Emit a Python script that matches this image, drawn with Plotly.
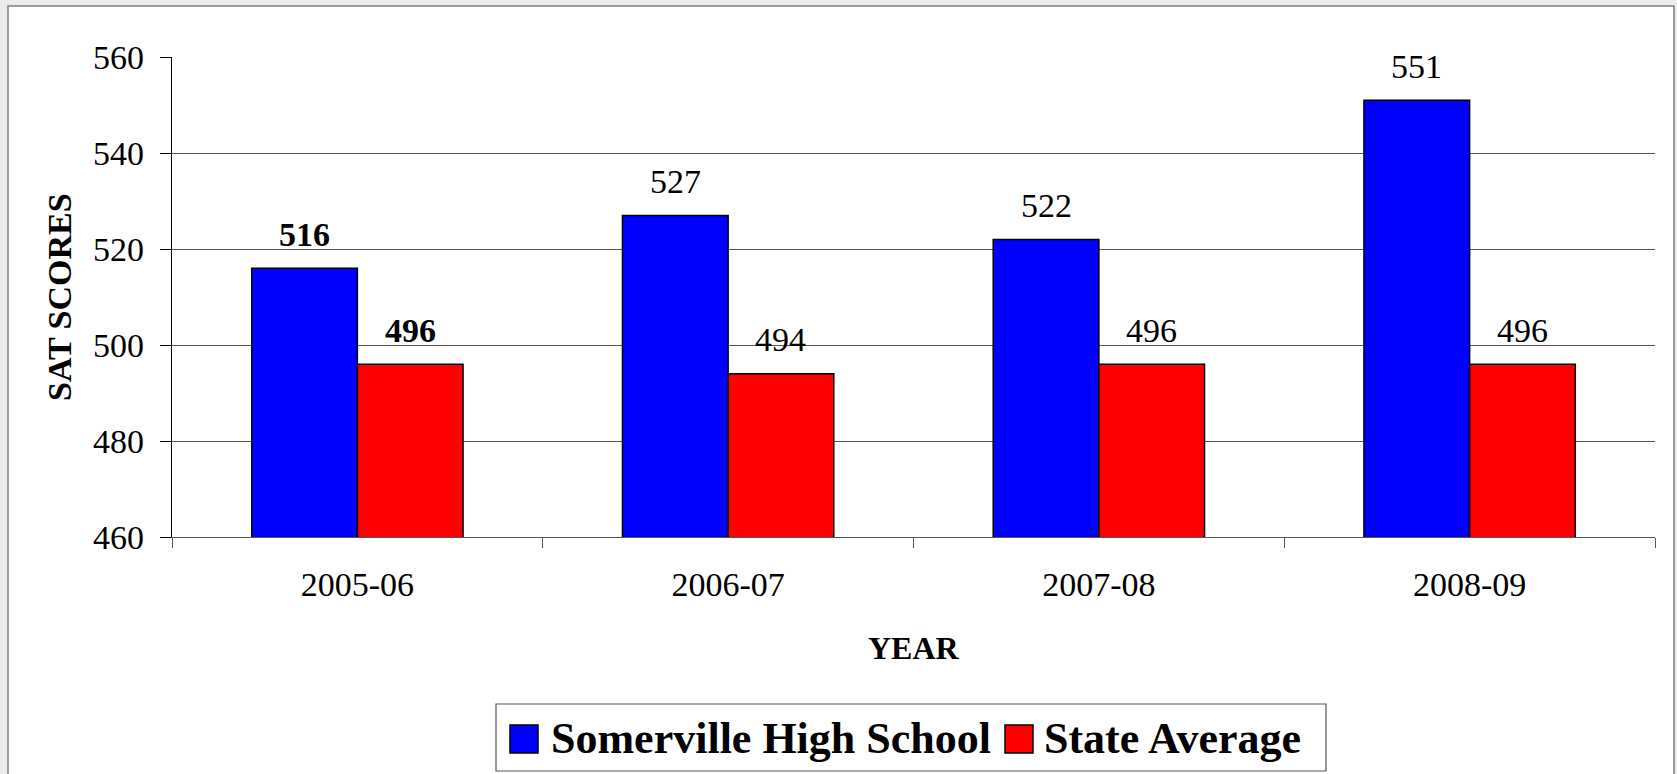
import plotly.graph_objects as go

years = ["2005-06", "2006-07", "2007-08", "2008-09"]
somerville = [516, 527, 522, 551]
state_avg = [496, 494, 496, 496]
bold_labels = [True, False, False, False]
series_names = ["Somerville High School", "State Average"]
series_colors = ["#0000FF", "#FF0000"]
y_ticks = [460, 480, 500, 520, 540, 560]

W, H = 1677, 774
L, R, T, B = 172, 22, 57, 237
PW, PH = W - L - R, H - T - B
FONT = "Liberation Serif"
BARGAP = 0.43


def px(x):
    return (x - L) / PW


def py(y):
    return (H - B - y) / PH


fig = go.Figure()
for name, vals, col in zip(series_names, [somerville, state_avg], series_colors):
    fig.add_trace(go.Bar(
        x=years, y=vals, name=name,
        marker=dict(color=col, line=dict(color="black", width=1.5)),
        showlegend=False,
    ))

# data labels
half = (1 - BARGAP) / 4
annotations = []
for i, (a, b, bl) in enumerate(zip(somerville, state_avg, bold_labels)):
    for off, v in ((-half, a), (half, b)):
        txt = f"<b>{v}</b>" if bl else str(v)
        annotations.append(dict(
            x=i + off, y=v, xref="x", yref="y", text=txt, showarrow=False,
            yanchor="middle", yshift=34,
            font=dict(family=FONT, size=34, color="black"),
        ))

# axis titles
annotations.append(dict(
    x=0.5, y=py(648), xref="paper", yref="paper", text="<b>YEAR</b>",
    showarrow=False, xanchor="center", yanchor="middle",
    font=dict(family=FONT, size=32, color="black"),
))
annotations.append(dict(
    x=px(59), y=0.5, xref="paper", yref="paper", text="<b>SAT SCORES</b>",
    showarrow=False, xanchor="center", yanchor="middle", textangle=-90,
    font=dict(family=FONT, size=34, color="black"),
))

shapes = [
    # outer chart frame
    dict(type="rect", xref="paper", yref="paper", layer="below",
         x0=px(8), x1=px(1674), y0=py(790), y1=py(6),
         line=dict(color="#7f7f7f", width=1.5), fillcolor="white"),
    # legend box
    dict(type="rect", xref="paper", yref="paper",
         x0=px(496), x1=px(1326), y0=py(771), y1=py(704),
         line=dict(color="#555555", width=1.2), fillcolor="white"),
]

# custom legend entries
leg_items = [(510, 549), (1005, 1042)]
for (sx, tx), name, col in zip(leg_items, series_names, series_colors):
    shapes.append(dict(type="rect", xref="paper", yref="paper",
                       x0=px(sx), x1=px(sx + 28), y0=py(753), y1=py(725),
                       line=dict(color="black", width=1.5), fillcolor=col))
    annotations.append(dict(
        x=px(tx), y=py(738), xref="paper", yref="paper", text=f"<b>{name}</b>",
        showarrow=False, xanchor="left", yanchor="middle",
        font=dict(family=FONT, size=44, color="black"),
    ))

fig.update_layout(
    width=W, height=H,
    margin=dict(l=L, r=R, t=T, b=B, pad=0),
    paper_bgcolor="#ececec",
    plot_bgcolor="rgba(0,0,0,0)",
    barmode="group", bargap=BARGAP, bargroupgap=0,
    font=dict(family=FONT, size=34, color="black"),
    annotations=annotations,
    shapes=shapes,
    xaxis=dict(
        type="category", tickson="boundaries", ticks="outside", ticklen=10,
        tickcolor="#555555", showline=True, linecolor="#555555", linewidth=1.2,
        tickfont=dict(family=FONT, size=34, color="black"),
        ticklabelstandoff=17, showgrid=False, fixedrange=True,
    ),
    yaxis=dict(
        range=[y_ticks[0], y_ticks[-1]], tickvals=y_ticks,
        ticks="outside", ticklen=11, tickcolor="black",
        showline=True, linecolor="black", linewidth=1.2,
        showgrid=True, gridcolor="#555555", gridwidth=1,
        tickfont=dict(family=FONT, size=34, color="black"),
        ticklabelstandoff=9, zeroline=False, fixedrange=True,
    ),
)

fig.write_html(
    "out.html",
    config={"displayModeBar": False},
    post_script="document.body.style.margin='0px';document.body.style.overflow='hidden';",
)
